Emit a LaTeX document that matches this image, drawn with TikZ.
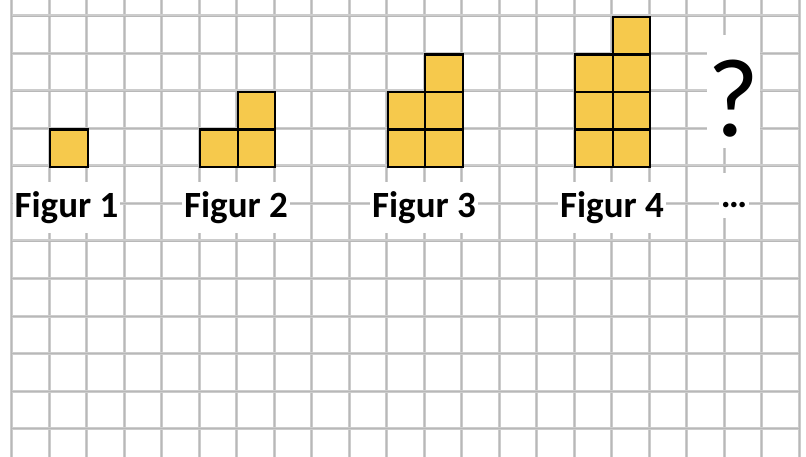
\documentclass[tikz,border=0pt]{standalone}
\usepackage{fontspec}
\setmainfont{Carlito}

\definecolor{gridgray}{RGB}{204,204,204}
\definecolor{gridmid}{RGB}{184,184,184}
\definecolor{tilefill}{RGB}{246,201,76}

\begin{document}
\begin{tikzpicture}[
    x=1pt, y=-1pt,
    gridline/.style={
        draw=gridgray, line width=3pt
    },
    gridcore/.style={
        draw=gridmid, line width=0.8pt
    },
    tile/.style={
        rectangle, draw=black, line width=2.2pt,
        fill=tilefill,
        minimum size=37.5pt, inner sep=0pt,
        anchor=north west
    },
    figlabel/.style={
        fill=white, inner xsep=2pt, inner ysep=0pt,
        text height=36pt, text depth=15pt,
        font=\bfseries\fontsize{37}{37}\selectfont,
        anchor=base
    },
    qmark/.style={
        fill=white, inner sep=0pt, minimum width=53pt,
        text height=102pt, text depth=11pt,
        font=\fontsize{112}{112}\selectfont,
        anchor=base
    }
]

\useasboundingbox (0,0) rectangle (806,457);

% Grid paper
\foreach \i in {0,...,21} {
    \draw[gridline] ({11.5+37.5*\i},0) -- ({11.5+37.5*\i},457);
    \draw[gridcore] ({11.5+37.5*\i},0) -- ({11.5+37.5*\i},457);
}
\foreach \j in {0,...,11} {
    \draw[gridline] (11.5,{16+37.5*\j}) -- (799,{16+37.5*\j});
    \draw[gridcore] (11.5,{16+37.5*\j}) -- (799,{16+37.5*\j});
}

% Tiles (column/row of the grid)
\foreach \i/\j in {1/3,
                   5/3, 6/3, 6/2,
                   10/3, 11/3, 10/2, 11/2, 11/1,
                   15/3, 16/3, 15/2, 16/2, 15/1, 16/1, 16/0}
    \node[tile] (t-\i-\j) at ({11.5+37.5*\i},{16+37.5*\j}) {};

% Labels
\node[figlabel] (fig1) at (66.5,218) {Figur 1};
\node[figlabel] (fig2) at (236,218) {Figur 2};
\node[figlabel] (fig3) at (424,218) {Figur 3};
\node[figlabel] (fig4) at (612,218) {Figur 4};
\node[figlabel, text height=35pt, text depth=10pt] (dots) at (734,208) {…};

% Next figure
\node[qmark] (next) at (733.5,137) {?};

\end{tikzpicture}
\end{document}
